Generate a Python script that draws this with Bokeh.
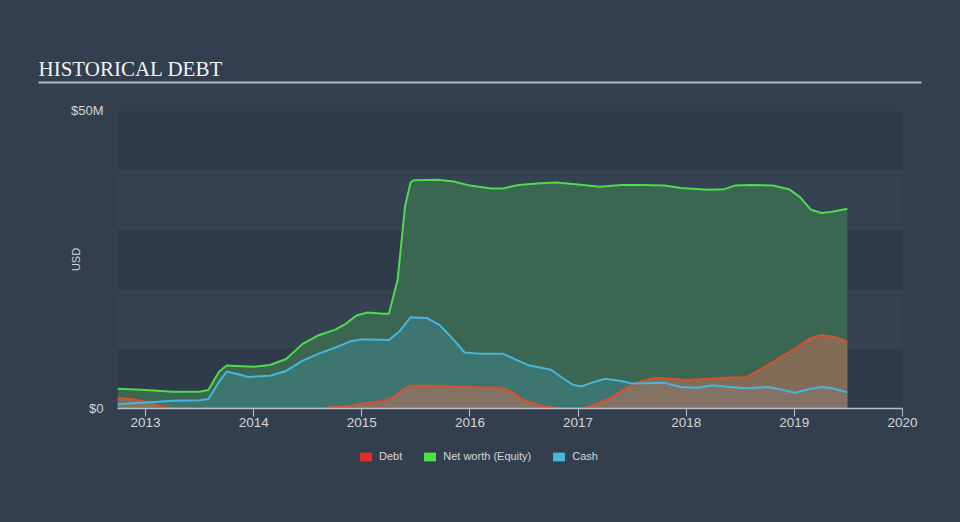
from bokeh.plotting import figure
from bokeh.layouts import column
from bokeh.models import (Range1d, FixedTicker, Label, BoxAnnotation, Legend, LegendItem)
from bokeh.embed import file_html
from bokeh.resources import INLINE
import numpy as np

# ---- data (values in $M, x in decimal years) ----
net_years = [2012.74, 2013.0, 2013.25, 2013.5, 2013.58, 2013.68, 2013.75, 2014.0, 2014.15, 2014.3,
             2014.45, 2014.6, 2014.75, 2014.85, 2014.95, 2015.05, 2015.2, 2015.25, 2015.33, 2015.40,
             2015.45, 2015.48, 2015.7, 2015.85, 2016.0, 2016.2, 2016.3, 2016.45, 2016.65, 2016.8,
             2017.0, 2017.2, 2017.4, 2017.6, 2017.8, 2017.95, 2018.2, 2018.35, 2018.45, 2018.6,
             2018.8, 2018.95, 2019.05, 2019.15, 2019.25, 2019.35, 2019.49]
net_worth = [3.3, 3.1, 2.8, 2.8, 3.1, 6.2, 7.2, 7.0, 7.3, 8.3,
             10.8, 12.3, 13.2, 14.2, 15.6, 16.1, 15.9, 15.9, 21.5, 34.0,
             37.9, 38.3, 38.4, 38.1, 37.4, 36.9, 36.9, 37.5, 37.8, 37.9,
             37.6, 37.2, 37.5, 37.5, 37.4, 37.0, 36.7, 36.8, 37.4, 37.5,
             37.4, 36.8, 35.5, 33.4, 32.8, 33.0, 33.5]

cash_years = [2012.74, 2013.0, 2013.25, 2013.5, 2013.58, 2013.68, 2013.75, 2013.85, 2013.95, 2014.15,
              2014.3, 2014.45, 2014.6, 2014.75, 2014.9, 2015.0, 2015.25, 2015.35, 2015.45, 2015.6,
              2015.72, 2015.85, 2015.95, 2016.1, 2016.3, 2016.45, 2016.55, 2016.75, 2016.85, 2016.95,
              2017.03, 2017.12, 2017.25, 2017.4, 2017.5, 2017.8, 2017.95, 2018.1, 2018.25, 2018.4,
              2018.55, 2018.75, 2018.9, 2019.0, 2019.12, 2019.25, 2019.35, 2019.49]
cash = [0.7, 1.0, 1.3, 1.4, 1.6, 4.5, 6.2, 5.8, 5.3, 5.5,
        6.3, 8.0, 9.2, 10.2, 11.3, 11.6, 11.5, 13.0, 15.3, 15.2,
        14.0, 11.5, 9.4, 9.2, 9.2, 8.0, 7.2, 6.5, 5.2, 4.0,
        3.7, 4.3, 5.0, 4.6, 4.2, 4.3, 3.6, 3.5, 3.9, 3.6,
        3.4, 3.6, 3.1, 2.6, 3.2, 3.6, 3.4, 2.7]

debt_years = [2012.74, 2012.9, 2013.05, 2013.15, 2013.25, 2014.5, 2014.65, 2014.85, 2015.0, 2015.2,
              2015.3, 2015.38, 2015.45, 2015.7, 2016.0, 2016.3, 2016.38, 2016.5, 2016.65, 2016.8,
              2017.05, 2017.15, 2017.3, 2017.45, 2017.6, 2017.72, 2017.85, 2018.0, 2018.2, 2018.4,
              2018.55, 2018.65, 2018.8, 2019.0, 2019.15, 2019.25, 2019.35, 2019.49]
debt = [1.8, 1.5, 0.9, 0.3, 0.05, 0.05, 0.1, 0.4, 0.8, 1.3,
        2.0, 3.2, 3.8, 3.8, 3.6, 3.5, 2.8, 1.4, 0.5, 0.1,
        0.1, 0.6, 1.8, 3.5, 4.7, 5.1, 5.0, 4.8, 5.0, 5.2,
        5.2, 6.2, 7.8, 10.0, 11.8, 12.3, 12.1, 11.2]

year_ticks = [2013, 2014, 2015, 2016, 2017, 2018, 2019, 2020]
y_ticks = [0, 50]
y_labels = {0: "$0", 50: "$50M"}
series_names = ["Debt", "Net worth (Equity)", "Cash"]
title_text = "HISTORICAL DEBT"

BG = "#333f4f"
BAND_DARK = "#2f3a4a"
BAND_LIGHT = "#344252"
TXT = "#d2d6db"
FONT = "Liberation Sans"


def no_outline(f):
    f.outline_line_color = None


def blank_fig(h):
    f = figure(width=960, height=h, output_backend="svg", toolbar_location=None,
               x_range=Range1d(0, 960), y_range=Range1d(0, h),
               x_axis_location=None, y_axis_location=None, min_border=0,
               frame_align=False)
    f.background_fill_color = BG
    f.border_fill_color = BG
    no_outline(f)
    f.grid.visible = False
    return f


# ---- title strip ----
top = blank_fig(100)
top.add_layout(Label(x=38, y=32, text=title_text, text_font="Liberation Serif",
                     text_font_size="21px", text_color="#f2f2f2",
                     text_baseline="alphabetic", text_align="left"))
top.add_layout(BoxAnnotation(left=38, right=921, bottom=17, top=19,
                             fill_color="#b4b9bf", fill_alpha=1, line_color=None))

# ---- main chart ----
p = figure(width=960, height=340, output_backend="svg", toolbar_location=None,
           x_range=Range1d(2012.74, 2020.0), y_range=Range1d(0, 50),
           min_border_left=117, min_border_right=58, min_border_top=10, min_border_bottom=32,
           frame_align=False)
p.background_fill_color = BAND_LIGHT
p.border_fill_color = BG
no_outline(p)
p.grid.visible = False

for lo in (0, 20, 40):
    p.add_layout(BoxAnnotation(bottom=lo, top=lo + 10, fill_color=BAND_DARK, fill_alpha=1,
                               line_color=None, level="underlay"))

p.varea(x=net_years, y1=0, y2=net_worth, fill_color="#3a6652", fill_alpha=1)
p.varea(x=cash_years, y1=0, y2=cash, fill_color="#3d7570", fill_alpha=1)
p.varea(x=debt_years, y1=0, y2=debt, fill_color="#7a8a86", fill_alpha=0.35,
        hatch_pattern="\\", hatch_color="#d9603d", hatch_alpha=0.75, hatch_scale=4, hatch_weight=1)

p.line(net_years, net_worth, line_color="#4cdc4c", line_width=2)
p.line(debt_years, debt, line_color="#d9502f", line_width=2)
p.line(cash_years, cash, line_color="#47b5dc", line_width=2)

xa = p.xaxis[0]
xa.ticker = FixedTicker(ticks=year_ticks)
xa.axis_line_color = "#b8bec6"
xa.axis_line_width = 1.5
xa.major_tick_line_color = "#b8bec6"
xa.major_tick_in = 0
xa.major_tick_out = 8
xa.minor_tick_line_color = None
xa.major_label_text_color = TXT
xa.major_label_text_font = FONT
xa.major_label_text_font_size = "13.5px"
xa.major_label_standoff = 1

ya = p.yaxis[0]
ya.ticker = FixedTicker(ticks=y_ticks)
ya.major_label_overrides = y_labels
ya.axis_line_color = None
ya.major_tick_line_color = None
ya.minor_tick_line_color = None
ya.major_label_text_color = TXT
ya.major_label_text_font = FONT
ya.major_label_text_font_size = "13px"
ya.major_label_standoff = 8
ya.axis_label = "USD"
ya.axis_label_text_color = TXT
ya.axis_label_text_font = FONT
ya.axis_label_text_font_size = "11px"
ya.axis_label_text_font_style = "normal"
ya.axis_label_standoff = -14

# ---- legend strip ----
bottom = blank_fig(82)
legend_colors = ["#e52a2a", "#4ae34a", "#46b8dd"]
items = []
for name, c in zip(series_names, legend_colors):
    r = bottom.quad(left=[np.nan], right=[np.nan], bottom=[np.nan], top=[np.nan],
                    fill_color=c, line_color=None)
    items.append(LegendItem(label=name, renderers=[r]))
legend = Legend(items=items, orientation="horizontal", location=(358, 60),
                background_fill_alpha=0, border_line_color=None,
                label_text_color=TXT, label_text_font=FONT, label_text_font_size="11px",
                label_text_baseline="middle",
                glyph_width=15, glyph_height=11, label_height=11, label_standoff=6,
                spacing=20, margin=0, padding=0)
bottom.add_layout(legend, "center")

layout = column(top, p, bottom, spacing=0)
page_style = "{% block preamble %}<style>html, body { background: #333f4f; }</style>{% endblock %}"
open("out.html", "w").write(file_html(layout, INLINE, template=page_style))
